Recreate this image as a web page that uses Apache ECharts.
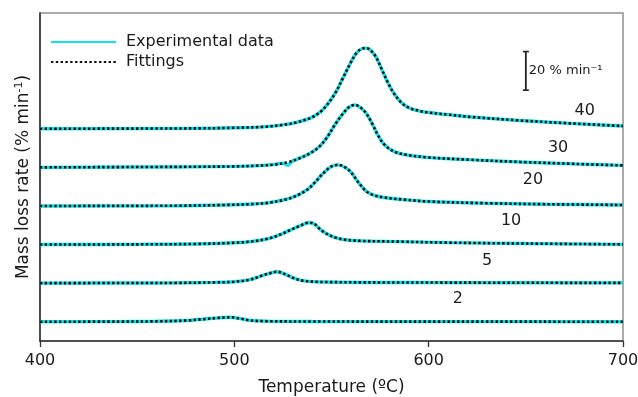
<!DOCTYPE html>
<html>
<head>
<meta charset="utf-8">
<script src="https://cdn.jsdelivr.net/npm/echarts@6/dist/echarts.min.js"></script>
<style>
  html, body { margin: 0; padding: 0; background: #fff; }
  #chart { width: 638px; height: 397px; }
</style>
</head>
<body>
<div id="chart"></div>
<script>
// DTG curves (mass loss rate, % min-1) at six heating rates (ºC/min).
// Each curve is stacked above the previous one by a fixed shift.
const heatingRates = ['2', '5', '10', '20', '30', '40'];
const baselineShift = [10, 30, 50, 70, 90, 110];

const temp2 = [400, 440, 460, 475, 485, 492, 498, 503, 508, 515, 540, 600, 700];
const rate2 = [0, 0.05, 0.2, 0.6, 1.4, 2.0, 2.3, 1.6, 0.7, 0.3, 0.1, 0.05, 0];

const temp5 = [400, 450, 470, 490, 500, 508, 514, 518, 522, 526, 530, 535, 545, 600, 700];
const rate5 = [0, 0.05, 0.1, 0.4, 0.7, 1.8, 3.8, 5.0, 5.9, 4.7, 2.8, 1.3, 0.6, 0.3, 0.1];

const temp10 = [400, 450, 480, 500, 510, 518, 524, 529, 534, 538, 541, 544, 548, 552, 557, 565, 585, 610, 650, 700];
const rate10 = [0, 0.1, 0.3, 0.9, 1.7, 3.2, 5.3, 7.6, 9.8, 11.3, 10.8, 8.0, 5.3, 3.6, 2.5, 1.9, 1.5, 1.0, 0.5, 0.1];

const temp20 = [400, 470, 495, 510, 518, 527, 533, 538, 542, 546, 550, 553.5, 557, 560, 564, 568, 572, 577, 587, 600, 630, 660, 700];
const rate20 = [0, 0.1, 0.5, 1.0, 1.7, 3.5, 5.8, 8.8, 12.8, 17.2, 20.5, 21.3, 20.0, 17.5, 12.0, 7.5, 5.5, 4.4, 3.3, 2.3, 1.4, 0.9, 0.5];

const temp30 = [400, 480, 500, 513, 520, 527, 533, 539, 544, 548, 552, 556, 559, 562, 565, 568, 571, 574, 577, 582, 589, 599, 620, 647, 675, 700];
const rate30 = [0, 0.3, 0.5, 0.9, 1.4, 2.5, 4.5, 7.3, 11.0, 16.0, 22.5, 28.0, 31.2, 32.4, 31.0, 27.8, 22.5, 16.5, 12.0, 8.3, 6.4, 5.2, 4.0, 2.8, 1.8, 1.0];

const temp40 = [400, 480, 500, 515, 525, 532, 539, 544, 548, 552, 556, 560, 563, 566, 568, 570, 573, 576, 579, 582, 586, 590, 595, 600, 610, 622, 647, 673, 700];
const rate40 = [0, 0.2, 0.5, 1.0, 2.0, 3.3, 5.5, 8.5, 12.8, 18.6, 26.5, 34.5, 39.5, 41.6, 41.8, 40.8, 37.0, 30.5, 24.0, 18.5, 13.5, 10.8, 9.3, 8.4, 7.3, 6.1, 4.3, 2.8, 1.4];

// measured 30 ºC/min run has a small kink near 527 ºC
const tempExp30 = [400, 480, 500, 513, 520, 525, 527.5, 529.5, 533, 539, 544, 548, 552, 556, 559, 562, 565, 568, 571, 574, 577, 582, 589, 599, 620, 647, 675, 700];
const rateExp30 = [0, 0.3, 0.5, 0.9, 1.4, 2.1, 1.1, 3.0, 4.5, 7.3, 11.0, 16.0, 22.5, 28.0, 31.2, 32.4, 31.0, 27.8, 22.5, 16.5, 12.0, 8.3, 6.4, 5.2, 4.0, 2.8, 1.8, 1.0];

const fitTemps = [temp2, temp5, temp10, temp20, temp30, temp40];
const fitRates = [rate2, rate5, rate10, rate20, rate30, rate40];
const expTemps = [temp2, temp5, temp10, temp20, tempExp30, temp40];
const expRates = [rate2, rate5, rate10, rate20, rateExp30, rate40];

const xTicks = [400, 500, 600, 700];
const scaleBarSpan = 20; // % min-1

const FONT = 'DejaVu Sans';
const CYAN = '#12e2ea';
const INK = '#1a1a1a';

function shifted(ts, rs, shift) {
  return ts.map((t, i) => [t, rs[i] + shift]);
}

const series = [];
heatingRates.forEach((hr, k) => {
  series.push({
    name: 'Experimental data',
    type: 'line',
    data: shifted(expTemps[k], expRates[k], baselineShift[k]),
    smooth: 0.35,
    symbol: 'none',
    lineStyle: { color: CYAN, width: 3.4 },
    itemStyle: { color: CYAN },
    z: 2
  });
});
heatingRates.forEach((hr, k) => {
  series.push({
    name: 'Fittings',
    type: 'line',
    data: shifted(fitTemps[k], fitRates[k], baselineShift[k]),
    smooth: 0.35,
    symbol: 'none',
    lineStyle: { color: '#111', width: 2.6, type: [2.4, 2.4] },
    itemStyle: { color: '#111' },
    z: 3
  });
});

// heating-rate labels beside each curve's tail
const labelAnchors = [[615, 21.8], [630, 41.5], [642.4, 62.2], [653.7, 83.5], [666.6, 100.3], [680.3, 119.2]];
series.push({
  name: 'rates',
  type: 'scatter',
  symbolSize: 0,
  silent: true,
  itemStyle: { opacity: 1 },
  data: heatingRates.map((hr, k) => [labelAnchors[k][0], labelAnchors[k][1], hr]),
  label: {
    show: true,
    position: 'inside',
    formatter: p => p.value[2],
    fontFamily: FONT,
    fontSize: 16,
    color: INK
  },
  z: 5
});

// vertical scale bar
const barX = 650, barBottom = 130;
series.push({
  name: 'scale',
  type: 'line',
  data: [[barX, barBottom], [barX, barBottom + scaleBarSpan]],
  symbol: 'rect',
  symbolSize: [6, 1.6],
  showSymbol: true,
  silent: true,
  lineStyle: { color: '#222', width: 1.8 },
  itemStyle: { color: '#222' },
  z: 5
});
series.push({
  name: 'scaleText',
  type: 'scatter',
  symbolSize: 0,
  silent: true,
  itemStyle: { opacity: 1 },
  data: [[barX, barBottom + scaleBarSpan / 2]],
  label: {
    show: true,
    position: 'right',
    distance: 3,
    formatter: scaleBarSpan + ' % min⁻¹',
    fontFamily: FONT,
    fontSize: 13,
    color: INK
  },
  z: 5
});

const chart = echarts.init(document.getElementById('chart'), null, { renderer: 'canvas' });
chart.setOption({
  animation: false,
  backgroundColor: '#fff',
  grid: {
    left: 40, right: 15, top: 13, bottom: 56,
    outerBoundsMode: 'none',
    containLabel: false,
    show: true,
    borderColor: '#909090',
    borderWidth: 1.5,
    backgroundColor: 'transparent'
  },
  legend: {
    data: ['Experimental data', 'Fittings'],
    orient: 'vertical',
    left: 50,
    top: 34,
    padding: 0,
    itemGap: 4,
    itemWidth: 65,
    itemHeight: 14,
    selectedMode: false,
    itemStyle: { opacity: 0 },
    lineStyle: { opacity: 1 },
    textStyle: { fontFamily: FONT, fontSize: 16, color: INK, padding: [0, 0, 0, 5] }
  },
  xAxis: {
    type: 'value',
    min: xTicks[0],
    max: xTicks[xTicks.length - 1],
    interval: xTicks[1] - xTicks[0],
    name: 'Temperature (ºC)',
    nameLocation: 'middle',
    nameGap: 38,
    nameTextStyle: { fontFamily: FONT, fontSize: 17, color: INK },
    axisLine: { show: true, lineStyle: { color: '#333', width: 1.6 } },
    axisTick: { show: true, length: 6, lineStyle: { color: '#333', width: 1.3 } },
    axisLabel: { fontFamily: FONT, fontSize: 16, color: INK, margin: 12 },
    splitLine: { show: false }
  },
  yAxis: {
    type: 'value',
    min: 0,
    max: 170,
    name: 'Mass loss rate (% min{sup|-1})',
    nameLocation: 'middle',
    nameGap: 7,
    nameTextStyle: {
      fontFamily: FONT, fontSize: 17, color: INK,
      rich: { sup: { fontFamily: FONT, fontSize: 11, color: INK, verticalAlign: 'top', padding: [0, 0, 8, 0] } }
    },
    axisLine: { show: true, lineStyle: { color: '#333', width: 1.6 } },
    axisTick: { show: false },
    axisLabel: { show: false },
    splitLine: { show: false }
  },
  series: series
});
</script>
</body>
</html>
